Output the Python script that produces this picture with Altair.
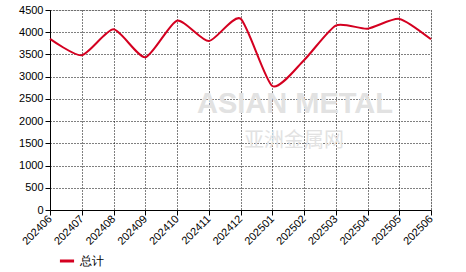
import altair as alt
import pandas as pd

months = ["202406", "202407", "202408", "202409", "202410", "202411", "202412",
          "202501", "202502", "202503", "202504", "202505", "202506"]
totals = [3850, 3480, 4065, 3435, 4260, 3800, 4305, 2790, 3370, 4150, 4080, 4300, 3840]
series_name = "总计"

df = pd.DataFrame({"month": months, "value": totals, "series": [series_name] * len(months)})

line = alt.Chart(df).mark_line(interpolate="cardinal", tension=0.35, strokeWidth=2).encode(
    x=alt.X("month:O", sort=months,
            scale=alt.Scale(type="point", padding=0),
            axis=alt.Axis(title=None, labelAngle=-45, labelAlign="right", labelBaseline="middle",
                          labelFont="Liberation Sans", labelFontSize=11, labelColor="#000",
                          labelPadding=2, tickColor="#000", tickSize=5, domainColor="#000",
                          grid=True, gridColor="#000", gridDash=[1, 2], gridOpacity=1,
                          labelOverlap=False)),
    y=alt.Y("value:Q", scale=alt.Scale(domain=[0, 4500], nice=False),
            axis=alt.Axis(title=None, values=list(range(0, 4501, 500)), format="d",
                          labelFont="Liberation Sans", labelFontSize=11, labelColor="#000",
                          tickColor="#000", tickSize=5, domainColor="#000",
                          grid=True, gridColor="#000", gridDash=[1, 2], gridOpacity=1)),
    stroke=alt.Stroke("series:N", scale=alt.Scale(domain=[series_name], range=["#d40020"]),
                      legend=alt.Legend(title=None, orient="none", legendX=8, legendY=242,
                                        symbolType="stroke", symbolStrokeWidth=3, symbolSize=200,
                                        labelFont="Liberation Sans", labelFontSize=12,
                                        labelColor="#000")),
)

wm1 = alt.Chart(pd.DataFrame({"t": ["ASIAN METAL"]})).mark_text(
    color="#e2e2e2", font="Liberation Sans", fontSize=29, fontWeight="bold", align="center",
    baseline="middle"
).encode(x=alt.value(245), y=alt.value(94), text="t:N")
wm2 = alt.Chart(pd.DataFrame({"t": ["亚洲金属网"]})).mark_text(
    color="#e2e2e2", font="Noto Sans CJK SC", fontSize=20, align="center", baseline="middle"
).encode(x=alt.value(244), y=alt.value(131), text="t:N")

chart = alt.layer(wm1, wm2, line).properties(
    width=381, height=200,
    autosize=alt.AutoSizeParams(type="none"),
    padding={"left": 50, "top": 10, "right": 35, "bottom": 62},
).configure_view(stroke=None).configure(background="white")

chart.save("out.html", embed_options={"renderer": "svg", "actions": False})
